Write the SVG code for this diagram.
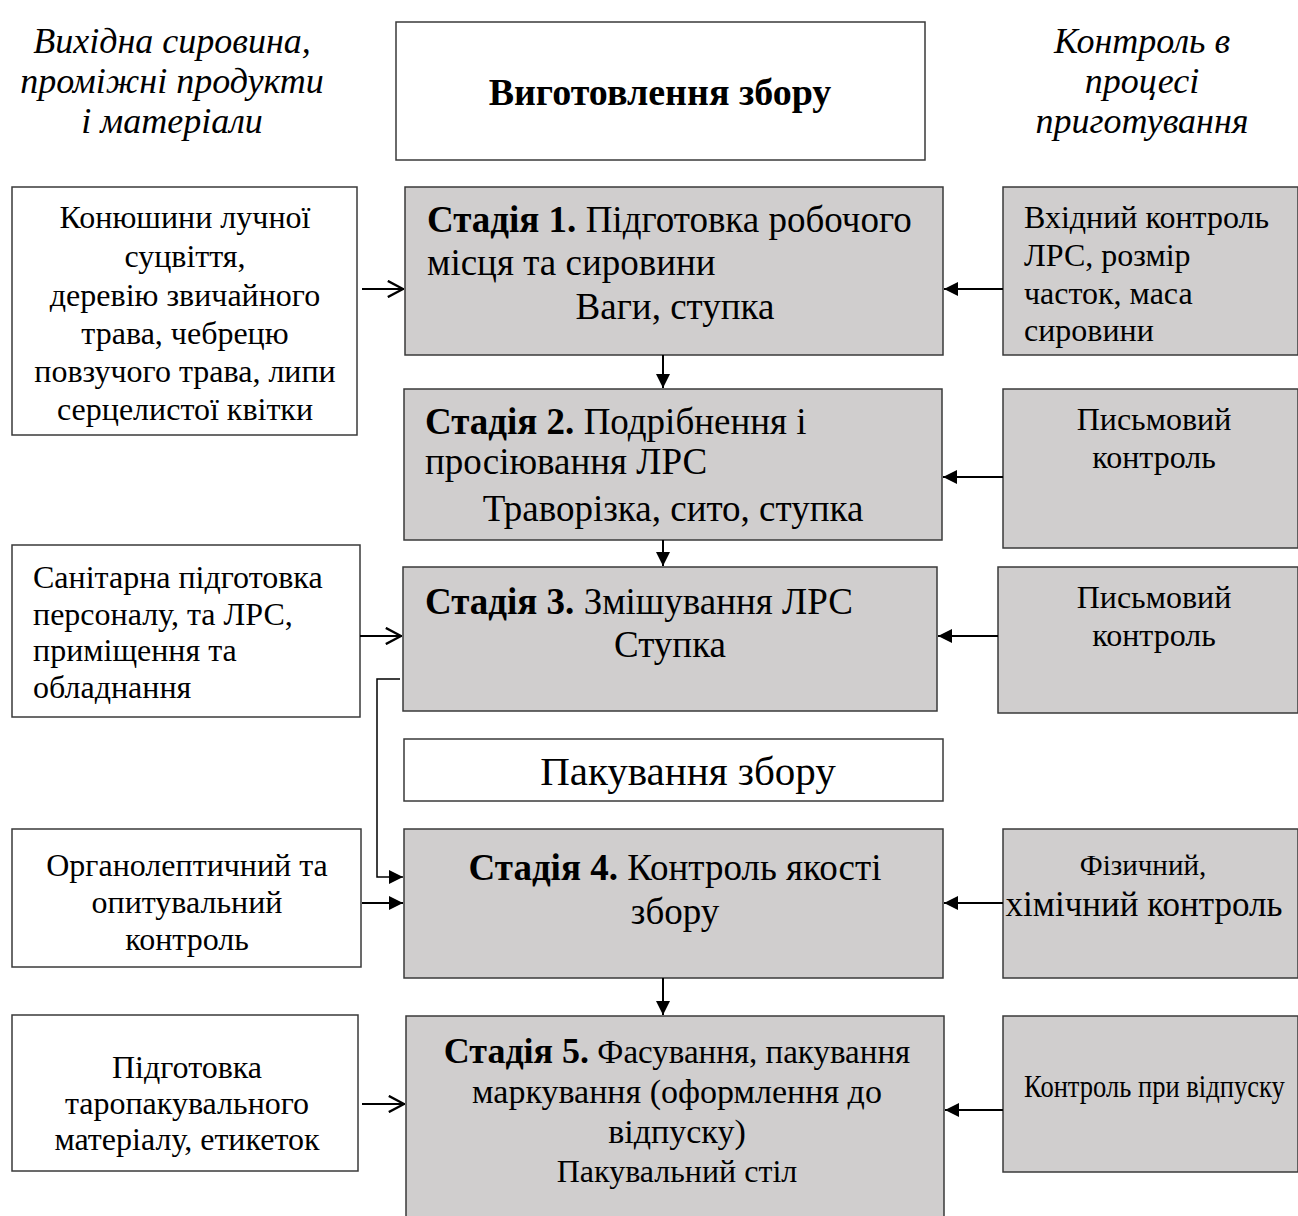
<svg xmlns="http://www.w3.org/2000/svg" width="1298" height="1216" viewBox="0 0 1298 1216">
  <style>
    text { font-family: "Liberation Serif", "Times New Roman", serif; fill: #000; }
    .box { fill: #fff; stroke: #3a3a3a; stroke-width: 1.5; }
    .stage { fill: #d0cece; stroke: #3a3a3a; stroke-width: 1.5; }
    .t32 { font-size: 32px; }
    .t37 { font-size: 37px; }
    .hdr { font-size: 36px; font-style: italic; }
    .c { text-anchor: middle; }
    .b { font-weight: bold; }
    .ln { fill: none; stroke: #000; stroke-width: 2; }
  </style>
  <defs>
    <marker id="solid" viewBox="0 0 10 10" refX="10" refY="5" markerWidth="14" markerHeight="14" markerUnits="userSpaceOnUse" orient="auto">
      <path d="M0,0 L10,5 L0,10 z" fill="#000"/>
    </marker>
    <marker id="open" viewBox="0 0 10 10" refX="10" refY="5" markerWidth="18" markerHeight="18" markerUnits="userSpaceOnUse" orient="auto">
      <path d="M1,0.5 L9.5,5 L1,9.5" fill="none" stroke="#000" stroke-width="1.3"/>
    </marker>
  </defs>

  <!-- column headers -->
  <g id="hdr-left">
    <text class="hdr c" x="172" y="53">Вихідна сировина,</text>
    <text class="hdr c" x="172" y="93">проміжні продукти</text>
    <text class="hdr c" x="172" y="133">і матеріали</text>
  </g>
  <g id="hdr-right">
    <text class="hdr c" x="1142" y="53">Контроль в</text>
    <text class="hdr c" x="1142" y="93">процесі</text>
    <text class="hdr c" x="1142" y="133">приготування</text>
  </g>
  <g id="title">
    <rect class="box" x="396" y="22" width="529" height="138"/>
    <text class="c b" style="font-size:38px" x="660" y="105">Виготовлення збору</text>
  </g>

  <!-- row 1 -->
  <g id="in1">
    <rect class="box" x="12" y="187" width="345" height="248"/>
    <text class="t32 c" x="185" y="228">Конюшини лучної</text>
    <text class="t32 c" x="185" y="267">суцвіття,</text>
    <text class="t32 c" x="185" y="306">деревію звичайного</text>
    <text class="t32 c" x="185" y="344">трава, чебрецю</text>
    <text class="t32 c" x="185" y="382">повзучого трава, липи</text>
    <text class="t32 c" x="185" y="420">серцелистої квітки</text>
  </g>
  <g id="stage1">
    <rect class="stage" x="405" y="187" width="538" height="168"/>
    <text class="t37" x="427" y="232"><tspan class="b">Стадія 1.</tspan> Підготовка робочого</text>
    <text class="t37" x="427" y="275">місця та сировини</text>
    <text class="t37 c" x="675" y="319">Ваги, ступка</text>
  </g>
  <g id="ctl1">
    <rect class="stage" x="1003" y="187" width="295" height="168"/>
    <text class="t32" x="1024" y="228">Вхідний контроль</text>
    <text class="t32" x="1024" y="266">ЛРС, розмір</text>
    <text class="t32" x="1024" y="304">часток, маса</text>
    <text class="t32" x="1024" y="341">сировини</text>
  </g>

  <!-- row 2 -->
  <g id="stage2">
    <rect class="stage" x="404" y="389" width="538" height="151"/>
    <text class="t37" x="425" y="434"><tspan class="b">Стадія 2.</tspan> Подрібнення і</text>
    <text class="t37" x="425" y="474">просіювання ЛРС</text>
    <text class="t37 c" x="673" y="521">Траворізка, сито, ступка</text>
  </g>
  <g id="ctl2">
    <rect class="stage" x="1003" y="389" width="295" height="159"/>
    <text class="t32 c" x="1154" y="430">Письмовий</text>
    <text class="t32 c" x="1154" y="468">контроль</text>
  </g>

  <!-- row 3 -->
  <g id="in3">
    <rect class="box" x="12" y="545" width="348" height="172"/>
    <text class="t32" x="33" y="588">Санітарна підготовка</text>
    <text class="t32" x="33" y="625">персоналу, та ЛРС,</text>
    <text class="t32" x="33" y="661">приміщення та</text>
    <text class="t32" x="33" y="698">обладнання</text>
  </g>
  <g id="stage3">
    <rect class="stage" x="403" y="567" width="534" height="144"/>
    <text class="t37" x="425" y="614"><tspan class="b">Стадія 3.</tspan> Змішування ЛРС</text>
    <text class="t37 c" x="670" y="657">Ступка</text>
  </g>
  <g id="ctl3">
    <rect class="stage" x="998" y="567" width="300" height="146"/>
    <text class="t32 c" x="1154" y="608">Письмовий</text>
    <text class="t32 c" x="1154" y="646">контроль</text>
  </g>

  <g id="packing">
    <rect class="box" x="404" y="739" width="539" height="62"/>
    <text class="c" style="font-size:41px" x="688" y="785">Пакування збору</text>
  </g>

  <!-- row 4 -->
  <g id="in4">
    <rect class="box" x="12" y="829" width="349" height="138"/>
    <text class="t32 c" x="187" y="876">Органолептичний та</text>
    <text class="t32 c" x="187" y="913">опитувальний</text>
    <text class="t32 c" x="187" y="950">контроль</text>
  </g>
  <g id="stage4">
    <rect class="stage" x="404" y="829" width="539" height="149"/>
    <text class="t37 c" x="675" y="880"><tspan class="b">Стадія 4.</tspan> Контроль якості</text>
    <text class="t37 c" x="675" y="924">збору</text>
  </g>
  <g id="ctl4">
    <rect class="stage" x="1003" y="829" width="295" height="149"/>
    <text class="c" style="font-size:29px" x="1143" y="875">Фізичний,</text>
    <text class="c" style="font-size:35px" x="1144" y="916">хімічний контроль</text>
  </g>

  <!-- row 5 -->
  <g id="in5">
    <rect class="box" x="12" y="1015" width="346" height="156"/>
    <text class="t32 c" x="187" y="1078">Підготовка</text>
    <text class="t32 c" x="187" y="1114">таропакувального</text>
    <text class="t32 c" x="187" y="1150">матеріалу, етикеток</text>
  </g>
  <g id="stage5">
    <rect class="stage" x="406" y="1016" width="538" height="210"/>
    <text class="c" style="font-size:33px" x="677" y="1063"><tspan class="b" style="font-size:36px">Стадія 5.</tspan> Фасування, пакування</text>
    <text class="c" style="font-size:34px" x="677" y="1103">маркування (оформлення до</text>
    <text class="c" style="font-size:34px" x="677" y="1143">відпуску)</text>
    <text class="t32 c" x="677" y="1182">Пакувальний стіл</text>
  </g>
  <g id="ctl5">
    <rect class="stage" x="1003" y="1016" width="295" height="156"/>
    <!-- condensed label -->
    <text class="t32" transform="translate(1024 1097) scale(0.83 1)" x="0" y="0">Контроль при відпуску</text>
  </g>

  <!-- connectors -->
  <g id="connectors">
    <line class="ln" x1="362" y1="289" x2="404" y2="289" marker-end="url(#open)"/>
    <line class="ln" x1="360" y1="636" x2="402" y2="636" marker-end="url(#open)"/>
    <line class="ln" x1="362" y1="1104" x2="405" y2="1104" marker-end="url(#open)"/>
    <line class="ln" x1="362" y1="903" x2="403" y2="903" marker-end="url(#solid)"/>
    <polyline class="ln" style="stroke-width:1.5" points="400,679 377,679 377,877 403,877" marker-end="url(#solid)"/>

    <line class="ln" x1="1003" y1="289" x2="944" y2="289" marker-end="url(#solid)"/>
    <line class="ln" x1="1003" y1="477" x2="943" y2="477" marker-end="url(#solid)"/>
    <line class="ln" x1="998" y1="636" x2="938" y2="636" marker-end="url(#solid)"/>
    <line class="ln" x1="1003" y1="903" x2="944" y2="903" marker-end="url(#solid)"/>
    <line class="ln" x1="1003" y1="1110" x2="945" y2="1110" marker-end="url(#solid)"/>

    <line class="ln" x1="663" y1="355" x2="663" y2="388" marker-end="url(#solid)"/>
    <line class="ln" x1="663" y1="540" x2="663" y2="566" marker-end="url(#solid)"/>
    <line class="ln" x1="663" y1="978" x2="663" y2="1015" marker-end="url(#solid)"/>
  </g>
</svg>
